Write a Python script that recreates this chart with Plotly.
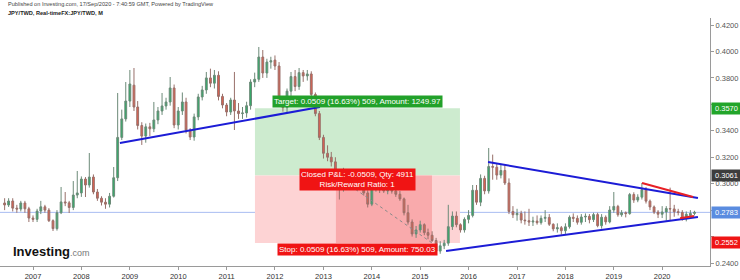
import pandas as pd
import plotly.graph_objects as go

# ---------------- data (monthly JPY/TWD, Jun 2006 .. Sep 2020) ----------------
start_month = "2006-06-01"
opens = [
 0.2854,0.2839,0.2869,0.2815,0.2808,0.2854,0.2810,
 0.2740,0.2730,0.2793,0.2825,0.2800,0.2720,0.2660,0.2780,0.2862,0.2855,0.2820,0.2914,
 0.2930,0.3035,0.2990,0.3050,0.2937,0.2890,0.2860,0.2845,0.2905,0.3045,0.3350,0.3490,
 0.3625,0.3745,0.3580,0.3440,0.3360,0.3430,0.3415,0.3482,0.3550,0.3588,0.3618,0.3724,
 0.3444,0.3550,0.3618,0.3406,0.3353,0.3505,0.3656,0.3709,0.3800,0.3760,0.3820,0.3660,
 0.3595,0.3542,0.3633,0.3550,0.3530,0.3535,0.3590,0.3769,0.3790,0.3958,0.3837,0.3920,
 0.3935,0.3890,0.3630,0.3575,0.3700,0.3810,0.3735,0.3840,0.3815,0.3830,0.3675,0.3530,
 0.3350,0.3230,0.3200,0.3165,0.3045,0.2960,0.3030,0.3065,0.3045,0.3010,0.2990,0.2930,
 0.2845,0.2970,0.2990,0.2955,0.2945,0.2950,0.2945,0.2920,0.2885,0.2780,0.2710,0.2620,
 0.2650,0.2690,0.2630,0.2610,0.2570,0.2490,0.2530,0.2550,0.2675,0.2755,0.2690,0.2650,
 0.2730,0.2760,0.2950,0.2860,0.3040,0.2945,0.3130,0.3125,0.3065,0.3100,0.3005,0.2790,
 0.2765,0.2775,0.2725,0.2720,0.2710,0.2717,0.2705,0.2738,0.2745,0.2693,0.2658,0.2667,
 0.2644,0.2674,0.2746,0.2738,0.2708,0.2748,0.2753,0.2728,0.2766,0.2682,0.2746,0.2711,
 0.2801,0.2828,0.2765,0.2780,0.2774,0.2918,0.2876,0.2898,0.2954,0.2868,0.2824,0.2785,
 0.2769,0.2786,0.2812,0.2809,0.2788,0.2783,0.2734,0.2760,0.2775,
]
highs = [
 0.2890,0.2890,0.2890,0.2840,0.2870,0.2870,0.2825,
 0.2760,0.2810,0.2870,0.2840,0.2815,0.2730,0.2800,0.2975,0.2937,0.2870,0.3020,0.3096,
 0.3055,0.3050,0.3232,0.3070,0.2960,0.2905,0.2890,0.2930,0.3126,0.3686,0.3560,0.3769,
 0.3860,0.3875,0.3625,0.3465,0.3455,0.3460,0.3618,0.3580,0.3686,0.3650,0.3807,0.3750,
 0.3580,0.3690,0.3650,0.3420,0.3530,0.3680,0.3740,0.3845,0.3870,0.3860,0.3850,0.3680,
 0.3610,0.3650,0.3845,0.3610,0.3580,0.3620,0.3790,0.3840,0.4034,0.4011,0.3945,0.3960,
 0.3970,0.3920,0.3660,0.3720,0.3845,0.3860,0.3875,0.3860,0.3860,0.3850,0.3690,0.3550,
 0.3370,0.3290,0.3240,0.3200,0.3070,0.3120,0.3100,0.3110,0.3080,0.3040,0.3010,0.2950,
 0.2990,0.3010,0.3010,0.2990,0.2975,0.2970,0.2965,0.2945,0.2895,0.2840,0.2730,0.2680,
 0.2720,0.2700,0.2660,0.2640,0.2590,0.2565,0.2575,0.2840,0.2790,0.2790,0.2700,0.2745,
 0.2800,0.2990,0.2990,0.3070,0.3060,0.3270,0.3220,0.3150,0.3150,0.3140,0.3040,0.2830,
 0.2810,0.2795,0.2790,0.2810,0.2750,0.2760,0.2760,0.2800,0.2770,0.2700,0.2700,0.2680,
 0.2700,0.2760,0.2775,0.2760,0.2770,0.2775,0.2770,0.2780,0.2780,0.2770,0.2760,0.2830,
 0.2937,0.2840,0.2800,0.2790,0.2930,0.2935,0.2920,0.3005,0.2975,0.2880,0.2835,0.2800,
 0.2830,0.2830,0.2970,0.2840,0.2810,0.2800,0.2790,0.2800,0.2795,
]
lows = [
 0.2800,0.2824,0.2790,0.2780,0.2790,0.2780,0.2710,
 0.2710,0.2710,0.2770,0.2780,0.2710,0.2642,0.2645,0.2770,0.2830,0.2778,0.2800,0.2890,
 0.2900,0.2899,0.2970,0.2920,0.2870,0.2835,0.2810,0.2820,0.2895,0.3020,0.3330,0.3470,
 0.3580,0.3550,0.3410,0.3293,0.3310,0.3360,0.3390,0.3450,0.3520,0.3560,0.3590,0.3420,
 0.3410,0.3520,0.3380,0.3330,0.3325,0.3480,0.3630,0.3680,0.3730,0.3720,0.3630,0.3570,
 0.3510,0.3520,0.3406,0.3490,0.3490,0.3500,0.3560,0.3730,0.3770,0.3800,0.3800,0.3870,
 0.3860,0.3610,0.3545,0.3540,0.3660,0.3700,0.3710,0.3770,0.3780,0.3650,0.3510,0.3330,
 0.3190,0.3170,0.3130,0.3020,0.2880,0.2940,0.2990,0.3000,0.2990,0.2960,0.2910,0.2820,
 0.2830,0.2940,0.2930,0.2930,0.2920,0.2925,0.2900,0.2870,0.2760,0.2690,0.2600,0.2590,
 0.2630,0.2610,0.2580,0.2560,0.2475,0.2470,0.2505,0.2530,0.2650,0.2670,0.2630,0.2630,
 0.2700,0.2745,0.2840,0.2830,0.2920,0.2925,0.3030,0.3030,0.3040,0.2990,0.2770,0.2740,
 0.2720,0.2700,0.2690,0.2680,0.2680,0.2690,0.2690,0.2710,0.2680,0.2640,0.2630,0.2615,
 0.2620,0.2660,0.2710,0.2690,0.2690,0.2710,0.2700,0.2710,0.2670,0.2660,0.2690,0.2700,
 0.2780,0.2750,0.2750,0.2745,0.2765,0.2855,0.2860,0.2880,0.2850,0.2800,0.2770,0.2740,
 0.2740,0.2720,0.2720,0.2750,0.2760,0.2720,0.2715,0.2745,0.2760,
]
closes = [
 0.2839,0.2869,0.2815,0.2808,0.2854,0.2810,0.2740,
 0.2730,0.2793,0.2825,0.2800,0.2720,0.2660,0.2780,0.2862,0.2855,0.2820,0.2914,0.2930,
 0.3035,0.2990,0.3050,0.2937,0.2890,0.2860,0.2845,0.2905,0.3045,0.3350,0.3490,0.3625,
 0.3754,0.3580,0.3440,0.3360,0.3430,0.3415,0.3482,0.3550,0.3588,0.3618,0.3724,0.3444,
 0.3550,0.3618,0.3406,0.3353,0.3505,0.3656,0.3709,0.3800,0.3760,0.3820,0.3660,0.3595,
 0.3542,0.3633,0.3550,0.3530,0.3535,0.3590,0.3769,0.3790,0.3958,0.3837,0.3920,0.3930,
 0.3890,0.3630,0.3575,0.3700,0.3810,0.3735,0.3840,0.3815,0.3830,0.3675,0.3530,0.3350,
 0.3230,0.3200,0.3165,0.3045,0.2960,0.3030,0.3065,0.3045,0.3010,0.2990,0.2930,0.2845,
 0.2970,0.2990,0.2955,0.2945,0.2950,0.2945,0.2920,0.2885,0.2780,0.2710,0.2620,0.2650,
 0.2690,0.2630,0.2610,0.2570,0.2490,0.2530,0.2550,0.2675,0.2755,0.2690,0.2650,0.2730,
 0.2760,0.2950,0.2860,0.3040,0.2945,0.3130,0.3125,0.3065,0.3100,0.3005,0.2790,0.2765,
 0.2775,0.2725,0.2720,0.2710,0.2717,0.2705,0.2738,0.2745,0.2693,0.2658,0.2667,0.2644,
 0.2674,0.2746,0.2738,0.2708,0.2748,0.2753,0.2728,0.2766,0.2682,0.2746,0.2711,0.2801,
 0.2828,0.2765,0.2780,0.2774,0.2918,0.2876,0.2898,0.2954,0.2868,0.2824,0.2785,0.2769,
 0.2786,0.2812,0.2809,0.2788,0.2783,0.2734,0.2769,0.2775,0.2783,
]

y_ticks = [0.24, 0.26, 0.28, 0.30, 0.32, 0.34, 0.36, 0.38, 0.40, 0.42]
# tick labels hidden behind the price badges on the right axis are left blank
y_ticktext = ["0.2400", "", "", "0.3000", "0.3200", "0.3400", "", "0.3800", "0.4000", "0.4200"]

# long-position drawing
pos_start, pos_entry_time, pos_exit_time, pos_end = "2011-08-03", "2013-04-05", "2015-03-31", "2015-10-28"
entry_price, target_price, stop_price = 0.3061, 0.3570, 0.2552
last_price = 0.2783

# trend lines: (date0, price0, date1, price1, colour)
trend_lines = [
    ("2008-10-18", 0.3308, "2012-12-06", 0.3580, "#1c1cd6"),
    ("2016-05-27", 0.3164, "2020-09-27", 0.2892, "#1c1cd6"),
    ("2015-07-15", 0.2491, "2020-09-27", 0.2748, "#1c1cd6"),
    ("2019-08-02", 0.3005, "2020-08-21", 0.2899, "#e82026"),
    ("2020-05-15", 0.2738, "2020-08-28", 0.2756, "#e82026"),
]

dates = pd.date_range(start_month, periods=len(closes), freq="MS")

fig = go.Figure()
fig.add_trace(go.Candlestick(
    x=dates, open=opens, high=highs, low=lows, close=closes,
    increasing=dict(fillcolor="#2fae68", line=dict(color="#6c8a78", width=1)),
    decreasing=dict(fillcolor="#e0604f", line=dict(color="#98706a", width=1)),
    whiskerwidth=0, showlegend=False, hoverinfo="skip",
))

shapes = []
# position zones
shapes.append(dict(type="rect", xref="x", yref="y", x0=pos_start, x1=pos_end, y0=entry_price, y1=target_price,
                   fillcolor="#cdebcf", line=dict(width=0), layer="below"))
shapes.append(dict(type="rect", xref="x", yref="y", x0=pos_start, x1=pos_end, y0=stop_price, y1=entry_price,
                   fillcolor="#fdd3d4", line=dict(width=0), layer="below"))
shapes.append(dict(type="rect", xref="x", yref="y", x0=pos_entry_time, x1=pos_exit_time, y0=stop_price, y1=entry_price,
                   fillcolor="#f9aaac", line=dict(width=0), layer="below"))
shapes.append(dict(type="line", xref="x", yref="y", x0=pos_entry_time, x1=pos_exit_time, y0=entry_price, y1=stop_price,
                   line=dict(color="#8a8a8a", width=1, dash="dot")))
# last price line
shapes.append(dict(type="line", xref="paper", yref="y", x0=0, x1=1, y0=last_price, y1=last_price,
                   line=dict(color="#a9bcf2", width=1), layer="below"))
for d0, p0, d1, p1, c in trend_lines:
    shapes.append(dict(type="line", xref="x", yref="y", x0=d0, y0=p0, x1=d1, y1=p1,
                       line=dict(color=c, width=2)))

mid = pd.Timestamp(pos_start) + (pd.Timestamp(pos_end) - pd.Timestamp(pos_start)) / 2

lbl_font = dict(family="Liberation Sans, Arial, sans-serif", size=8, color="white")
annotations = [
    dict(x=mid, y=target_price, xref="x", yref="y", yanchor="bottom", yshift=0,
         text="Target: 0.0509 (16.63%) 509, Amount: 1249.97", showarrow=False,
         bgcolor="#22a12a", font=lbl_font, borderpad=1),
    dict(x=mid, y=entry_price, xref="x", yref="y", yanchor="middle", yshift=-4,
         text="Closed P&L: -0.0509, Qty: 4911<br>Risk/Reward Ratio: 1", showarrow=False,
         bgcolor="#f01414", font=lbl_font, borderpad=1),
    dict(x=mid, y=stop_price, xref="x", yref="y", yanchor="top", yshift=0,
         text="Stop: 0.0509 (16.63%) 509, Amount: 750.03", showarrow=False,
         bgcolor="#f01414", font=lbl_font, borderpad=1),
]
# right-axis price badges
for price, col in [(target_price, "#22a52a"), (entry_price, "#3d3d3d"), (last_price, "#5a8ce0"), (stop_price, "#ef1515")]:
    annotations.append(dict(x=1, xref="paper", xanchor="left", xshift=1, y=price, yref="y", yanchor="middle",
                            text=f"{price:.4f}", showarrow=False, bgcolor=col,
                            font=dict(family="Liberation Sans, Arial, sans-serif", size=7.5, color="white"),
                            borderpad=1, width=27, align="center"))
# header and logo
annotations += [
    dict(x=0.008, y=1.058, xref="paper", yref="paper", xanchor="left", yanchor="middle",
         text="Published on Investing.com, 17/Sep/2020 - 7:40:59 GMT, Powered by TradingView",
         showarrow=False, font=dict(family="Liberation Sans, Arial, sans-serif", size=5.6, color="#444")),
    dict(x=0.008, y=1.022, xref="paper", yref="paper", xanchor="left", yanchor="middle",
         text="<b>JPY/TWD, Real-timeFX:JPY/TWD, M</b>",
         showarrow=False, font=dict(family="Liberation Sans, Arial, sans-serif", size=5.6, color="#222")),
    dict(x=0.016, y=0.057, xref="paper", yref="paper", xanchor="left", yanchor="middle",
         text="<b>Investing</b><span style='font-size:9px;color:#777'>.com</span>",
         showarrow=False, font=dict(family="Liberation Sans, Arial, sans-serif", size=13, color="#111")),
]

fig.update_layout(
    width=740, height=280,
    margin=dict(l=0, r=30, t=18, b=14),
    paper_bgcolor="white", plot_bgcolor="white",
    shapes=shapes, annotations=annotations,
    showlegend=False,
    xaxis=dict(type="date", range=["2006-04-27", "2020-12-27"], rangeslider=dict(visible=False),
               tickformat="%Y", dtick="M12", tick0="2007-01-01", showgrid=False, zeroline=False,
               showline=True, linecolor="#9a9a9a", ticks="outside", ticklen=3, tickcolor="#9a9a9a",
               tickfont=dict(family="Liberation Sans, Arial, sans-serif", size=7.5, color="#333")),
    yaxis=dict(side="right", range=[0.23773, 0.42533], tickvals=y_ticks, ticktext=y_ticktext,
               showgrid=False, zeroline=False, showline=True, linecolor="#9a9a9a",
               ticks="outside", ticklen=3, tickcolor="#9a9a9a",
               tickfont=dict(family="Liberation Sans, Arial, sans-serif", size=7.5, color="#555")),
)

fig.write_html("out.html")
